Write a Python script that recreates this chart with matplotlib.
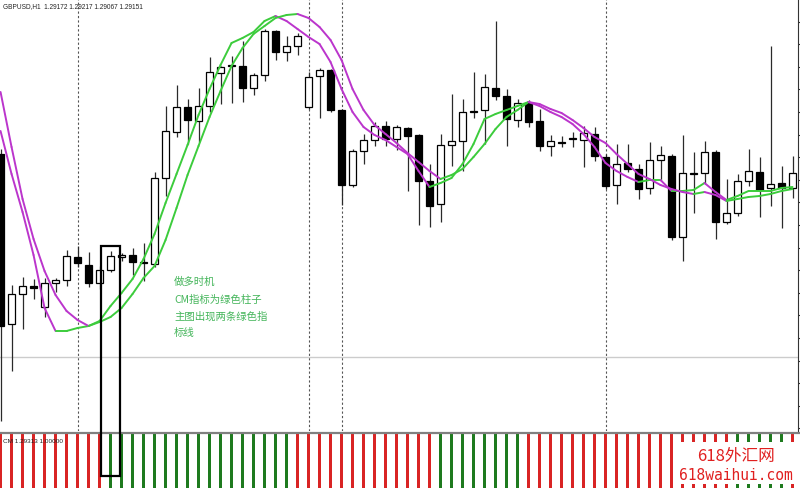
import numpy as np
import matplotlib
matplotlib.use("Agg")
import matplotlib.pyplot as plt
from matplotlib.collections import LineCollection
from matplotlib.patches import Rectangle

plt.rcParams['font.family'] = ['Noto Sans CJK SC', 'DejaVu Sans']

# GBPUSD H1 candles
opens = [1.29190, 1.28850, 1.28910, 1.28926, 1.28884, 1.28932, 1.28938, 1.28984, 1.28968, 1.28932,
         1.28958, 1.28984, 1.28988, 1.28974, 1.28970, 1.29142, 1.29234, 1.29284, 1.29256, 1.29286,
         1.29352, 1.29366, 1.29366, 1.29322, 1.29348, 1.29436, 1.29394, 1.29406, 1.29284, 1.29346,
         1.29358, 1.29278, 1.29128, 1.29196, 1.29218, 1.29246, 1.29220, 1.29242, 1.29228, 1.29136,
         1.29090, 1.29208, 1.29216, 1.29276, 1.29278, 1.29322, 1.29306, 1.29258, 1.29292, 1.29256,
         1.29206, 1.29214, 1.29220, 1.29218, 1.29230, 1.29184, 1.29128, 1.29172, 1.29160, 1.29122,
         1.29178, 1.29186, 1.29024, 1.29152, 1.29152, 1.29194, 1.29054, 1.29072, 1.29136, 1.29154,
         1.29122, 1.29132, 1.29122]
highs = [1.29200, 1.28928, 1.28944, 1.28940, 1.28942, 1.28942, 1.28998, 1.29006, 1.28994, 1.28966,
         1.28996, 1.28992, 1.29002, 1.29012, 1.29154, 1.29286, 1.29328, 1.29300, 1.29322, 1.29384,
         1.29366, 1.29386, 1.29416, 1.29352, 1.29440, 1.29438, 1.29426, 1.29432, 1.29354, 1.29362,
         1.29360, 1.29280, 1.29200, 1.29230, 1.29254, 1.29256, 1.29248, 1.29244, 1.29230, 1.29170,
         1.29230, 1.29310, 1.29300, 1.29354, 1.29350, 1.29456, 1.29320, 1.29300, 1.29298, 1.29280,
         1.29228, 1.29226, 1.29234, 1.29246, 1.29244, 1.29190, 1.29210, 1.29210, 1.29170, 1.29214,
         1.29206, 1.29190, 1.29228, 1.29194, 1.29216, 1.29198, 1.29140, 1.29150, 1.29200, 1.29184,
         1.29406, 1.29166, 1.29186]
lows = [1.28656, 1.28756, 1.28840, 1.28900, 1.28864, 1.28914, 1.28926, 1.28964, 1.28924, 1.28920,
        1.28954, 1.28976, 1.28948, 1.28936, 1.28964, 1.29106, 1.29224, 1.29210, 1.29214, 1.29274,
        1.29290, 1.29292, 1.29294, 1.29308, 1.29336, 1.29378, 1.29376, 1.29388, 1.29280, 1.29262,
        1.29274, 1.29088, 1.29124, 1.29170, 1.29206, 1.29206, 1.29198, 1.29116, 1.29048, 1.29044,
        1.29054, 1.29166, 1.29156, 1.29262, 1.29210, 1.29298, 1.29206, 1.29244, 1.29244, 1.29196,
        1.29186, 1.29204, 1.29204, 1.29164, 1.29176, 1.29120, 1.29090, 1.29154, 1.29100, 1.29110,
        1.29136, 1.29018, 1.28976, 1.29072, 1.29130, 1.29020, 1.29050, 1.29066, 1.29126, 1.29064,
        1.29086, 1.29042, 1.29102]
closes = [1.28846, 1.28910, 1.28926, 1.28922, 1.28932, 1.28938, 1.28986, 1.28972, 1.28932, 1.28958,
          1.28986, 1.28988, 1.28974, 1.28972, 1.29142, 1.29236, 1.29284, 1.29258, 1.29286, 1.29354,
          1.29364, 1.29368, 1.29322, 1.29348, 1.29436, 1.29394, 1.29406, 1.29426, 1.29344, 1.29358,
          1.29278, 1.29128, 1.29196, 1.29218, 1.29246, 1.29220, 1.29244, 1.29226, 1.29136, 1.29086,
          1.29208, 1.29216, 1.29274, 1.29274, 1.29324, 1.29306, 1.29260, 1.29292, 1.29254, 1.29206,
          1.29216, 1.29212, 1.29222, 1.29232, 1.29186, 1.29126, 1.29170, 1.29160, 1.29120, 1.29178,
          1.29188, 1.29024, 1.29152, 1.29150, 1.29194, 1.29054, 1.29072, 1.29136, 1.29156, 1.29118,
          1.29130, 1.29122, 1.29152]

# the two moving average lines
fast_ma = [1.29236, 1.29150, 1.29074, 1.28988, 1.28882, 1.28836, 1.28836, 1.28842, 1.28846, 1.28856,
           1.28886, 1.28912, 1.28940, 1.28980, 1.29030, 1.29092, 1.29150, 1.29208, 1.29268, 1.29320,
           1.29368, 1.29412, 1.29422, 1.29434, 1.29456, 1.29466, 1.29456, 1.29440, 1.29424, 1.29410,
           1.29374, 1.29320, 1.29274, 1.29244, 1.29228, 1.29218, 1.29204, 1.29190, 1.29156, 1.29124,
           1.29132, 1.29142, 1.29170, 1.29210, 1.29260, 1.29270, 1.29278, 1.29286, 1.29294, 1.29286,
           1.29274, 1.29264, 1.29250, 1.29230, 1.29204, 1.29172, 1.29156, 1.29144, 1.29134, 1.29138,
           1.29138, 1.29116, 1.29116, 1.29118, 1.29132, 1.29114, 1.29098, 1.29106, 1.29116, 1.29116,
           1.29116, 1.29122, 1.29124]
slow_ma = [1.29314, 1.29204, 1.29100, 1.29020, 1.28956, 1.28908, 1.28876, 1.28858, 1.28846, 1.28854,
           1.28864, 1.28882, 1.28910, 1.28942, 1.28966, 1.29018, 1.29082, 1.29148, 1.29206, 1.29264,
           1.29316, 1.29366, 1.29402, 1.29430, 1.29446, 1.29462, 1.29468, 1.29470, 1.29462, 1.29444,
           1.29418, 1.29378, 1.29320, 1.29278, 1.29248, 1.29230, 1.29212, 1.29192, 1.29174, 1.29156,
           1.29140, 1.29148, 1.29160, 1.29184, 1.29210, 1.29240, 1.29264, 1.29278, 1.29294, 1.29290,
           1.29280, 1.29272, 1.29258, 1.29242, 1.29224, 1.29212, 1.29190, 1.29170, 1.29150, 1.29140,
           1.29128, 1.29120, 1.29114, 1.29110, 1.29114, 1.29108, 1.29096, 1.29100, 1.29104, 1.29106,
           1.29110, 1.29116, 1.29120]

# CM indicator: 1 = green bar, 0 = red bar
cm_trend = [0, 0, 0, 0, 0, 0, 0, 0, 0, 0,
            1, 1, 1, 1, 1, 1, 1, 1, 1, 1,
            1, 1, 1, 1, 1, 1, 1, 0, 0, 0,
            0, 0, 0, 0, 0, 0, 0, 0, 0, 0,
            1, 1, 1, 1, 1, 1, 1, 1, 0, 0,
            0, 0, 0, 0, 0, 0, 0, 0, 0, 0,
            0, 0, 0, 0, 0, 0, 0, 1, 1, 1,
            1, 1, 0]
cm_value = 1.0

separators = [7, 28, 31, 55]
hline_price = 1.28784

header = "GBPUSD,H1  1.29172 1.29217 1.29067 1.29151"
cm_label = "CM 1.29313 1.00000"
notes = ["做多时机", "CM指标为绿色柱子", "主图出现两条绿色指", "标线"]

W, H = 800, 489


def fx(px):
    return px / W


def fy(py):
    return 1 - py / H


fig = plt.figure(figsize=(8, 4.89), dpi=100)
fig.patch.set_facecolor('white')

ax = fig.add_axes([0, fy(432), 798 / W, 432 / H])
ax2 = fig.add_axes([0, 0, 1, 55 / H])

n = len(opens)
x = np.arange(n)
o = np.array(opens)
c = np.array(closes)

# candles
ax.vlines(x, lows, highs, color='#2a2a2a', lw=0.9, zorder=1)
body_bottom = np.minimum(o, c)
body_h = np.abs(c - o)
face = ['white' if cc >= oo else 'black' for oo, cc in zip(o, c)]
ax.bar(x, body_h, width=0.66, bottom=body_bottom, color=face,
       edgecolor='black', linewidth=0.9, zorder=2)

# moving averages, coloured by direction
green = '#3ccc3c'
magenta = '#bb35cc'
for ma in (fast_ma, slow_ma):
    segs = [[(i, ma[i]), (i + 1, ma[i + 1])] for i in range(n - 1)]
    cols = [green if ma[i + 1] >= ma[i] else magenta for i in range(n - 1)]
    lc = LineCollection(segs, colors=cols, linewidths=1.4, capstyle='round', zorder=3)
    ax.add_collection(lc)

for s in separators:
    ax.axvline(s, color='#555555', lw=0.8, ls=(0, (2, 2)), zorder=0)
ax.axhline(hline_price, color='#cccccc', lw=1.0, zorder=0)

ax.set_xlim(-0.05, 72.5)
ax.set_ylim(1.28636, 1.29500)
for side in ['top', 'left', 'bottom']:
    ax.spines[side].set_visible(False)
ax.spines['right'].set_color('#333333')
ax.yaxis.tick_right()
ax.set_yticks(np.arange(1.29500 - 0.000452, 1.28640, -0.000452))
ax.tick_params(axis='y', length=3, direction='out', labelright=False, color='#333333')
ax.set_xticks([])

# CM histogram panel
bar_cols = ['#1e7a1e' if t else '#d92424' for t in cm_trend]
ax2.bar(x, [cm_value] * n, width=0.32, color=bar_cols, linewidth=0)
ax2.set_xlim(-0.05, -0.05 + W / 11)
ax2.set_ylim(0, 1)
for side in ['left', 'right', 'bottom']:
    ax2.spines[side].set_visible(False)
ax2.spines['top'].set_color('#808080')
ax2.spines['top'].set_linewidth(1.6)
ax2.set_xticks([])
ax2.set_yticks([])

# texts
fig.text(fx(3), fy(7), header, fontsize=4.7, va='center', ha='left',
         color='#222222', family='Liberation Sans')
fig.text(fx(3), fy(442), cm_label, fontsize=4.6, va='center', ha='left',
         color='#222222', family='Liberation Sans')
for txt, py in zip(notes, [282, 300, 317, 333]):
    fig.text(fx(174), fy(py), txt, fontsize=7.5, va='center', ha='left', color='#44b55a')

# highlight box
fig.add_artist(Rectangle((fx(101), fy(477)), 19 / W, 230 / H, transform=fig.transFigure,
                         fill=False, edgecolor='black', linewidth=1.6, zorder=10))

# watermark
fig.add_artist(Rectangle((fx(678), fy(485)), 122 / W, 42 / H, transform=fig.transFigure,
                         facecolor='white', edgecolor='none', zorder=8))
fig.text(fx(736), fy(457), "618外汇网", fontsize=12, ha='center', va='center',
         color='#e02020', zorder=9)
fig.text(fx(736), fy(476), "618waihui.com", fontsize=10.5, ha='center', va='center',
         color='#e02020', family='DejaVu Sans Mono', zorder=9)

fig.savefig('out.png', dpi=100)
